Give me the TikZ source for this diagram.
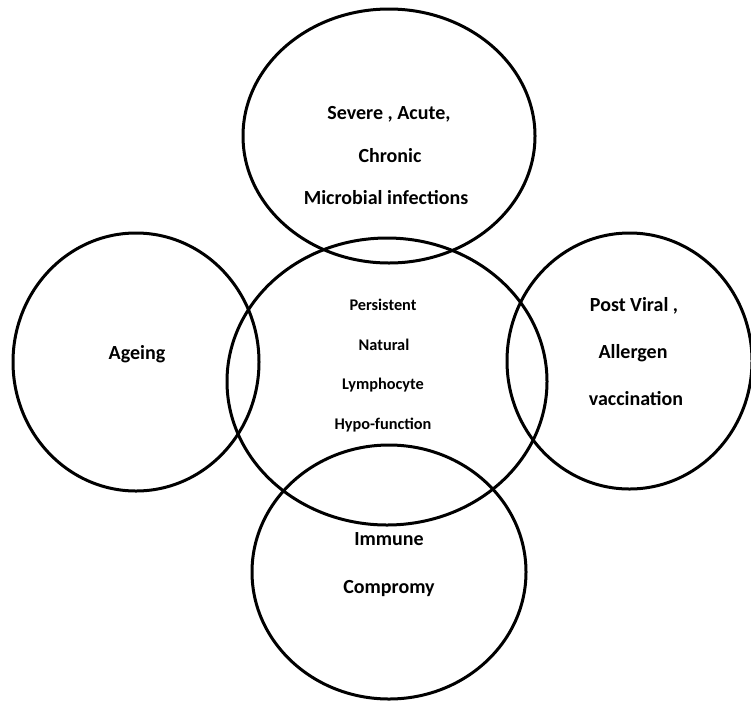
\documentclass[tikz,border=0pt]{standalone}
\usepackage{fontspec}
\setmainfont{Carlito}
\usetikzlibrary{shapes.geometric}
\begin{document}
\begin{tikzpicture}[x=1pt,y=-1pt,
  venn/.style={draw=black, line width=3pt, ellipse, inner sep=0pt, outer sep=0pt},
  bigtxt/.style={font=\bfseries\fontsize{20}{24}\selectfont, anchor=base, inner sep=0pt},
  smalltxt/.style={font=\bfseries\fontsize{16.3}{20}\selectfont, anchor=base, inner sep=0pt}]
\useasboundingbox (0,0) rectangle (751,702);
% circles
\node[venn, minimum width=292pt, minimum height=254pt] (topc) at (389,136) {};
\node[venn, minimum width=320pt, minimum height=287pt] (midc) at (387,381.5) {};
\node[venn, minimum width=246pt, minimum height=258pt] (leftc) at (136,362) {};
\node[venn, minimum width=245pt, minimum height=256pt] (rightc) at (629.5,361) {};
\node[venn, minimum width=274pt, minimum height=254pt] (botc) at (389,572) {};
% top texts
\node[bigtxt] (t1) at (389,119.5) {Severe , Acute,};
\node[bigtxt] (t2) at (390,162) {Chronic};
\node[bigtxt] (t3) at (386,204) {Microbial infections};
% center texts
\node[smalltxt] (m1) at (383,310.5) {Persistent};
\node[smalltxt] (m2) at (384,350) {Natural};
\node[smalltxt] (m3) at (383,389.5) {Lymphocyte};
\node[smalltxt] (m4) at (383,429) {Hypo-function};
% left
\node[bigtxt] (l1) at (137,359) {Ageing};
% right
\node[bigtxt] (r1) at (634,311) {Post Viral ,};
\node[bigtxt] (r2) at (633,358.5) {Allergen};
\node[bigtxt] (r3) at (636,405.5) {vaccination};
% bottom
\node[bigtxt] (b1) at (389,545.5) {Immune};
\node[bigtxt] (b2) at (389,593) {Compromy};
\end{tikzpicture}
\end{document}
